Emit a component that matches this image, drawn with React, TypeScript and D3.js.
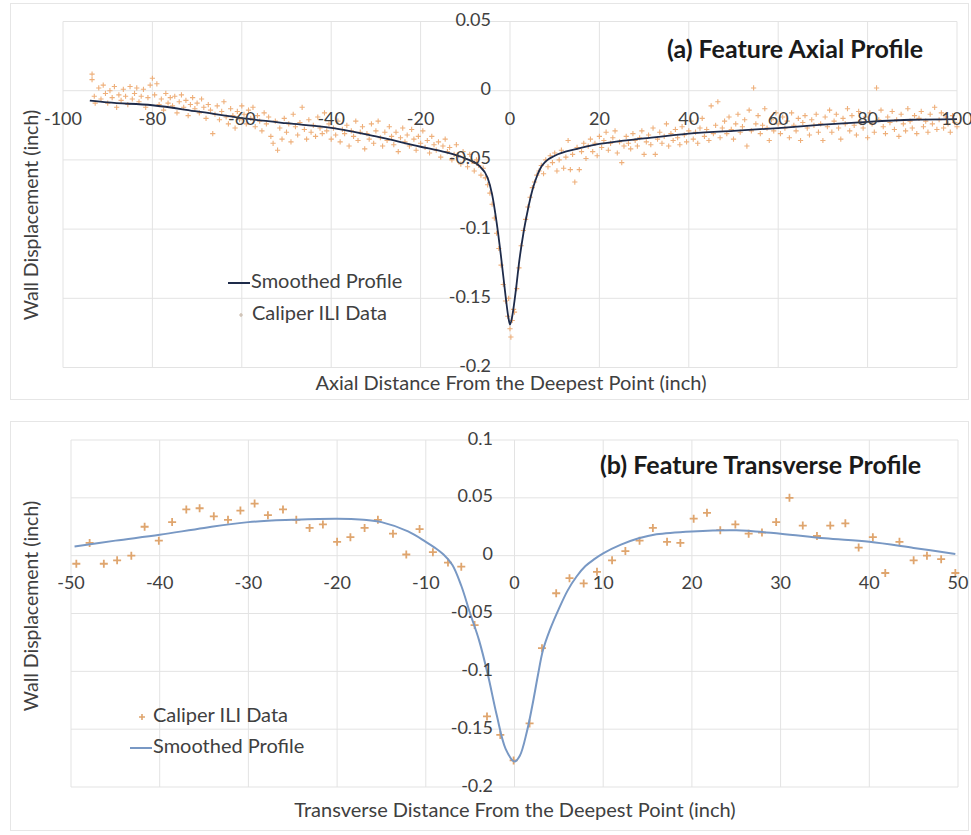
import React from "react";
import * as d3 from "d3";

// ---------- DATA ----------
const axialTicksX = [-100, -80, -60, -40, -20, 0, 20, 40, 60, 80, 100];
const axialTicksY = [0.05, 0, -0.05, -0.1, -0.15, -0.2];
const axialTickLabelsY = ["0.05", "0", "-0.05", "-0.1", "-0.15", "-0.2"];

const transTicksX = [-50, -40, -30, -20, -10, 0, 10, 20, 30, 40, 50];
const transTicksY = [0.1, 0.05, 0, -0.05, -0.1, -0.15, -0.2];
const transTickLabelsY = ["0.1", "0.05", "0", "-0.05", "-0.1", "-0.15", "-0.2"];

const axialSmoothed: [number, number][] = [
  [-94, -0.0072], [-90, -0.0085], [-80, -0.0105], [-70, -0.015], [-60, -0.0198], [-50, -0.0235],
  [-40, -0.0268], [-30, -0.033], [-20, -0.0405], [-15, -0.044], [-10, -0.049], [-7, -0.054],
  [-5, -0.063], [-4, -0.075], [-3, -0.095], [-2, -0.12], [-1, -0.148], [-0.4, -0.163],
  [0, -0.169], [0.5, -0.163], [1, -0.152], [1.5, -0.139], [2, -0.125], [3, -0.103],
  [4, -0.086], [5, -0.072], [6, -0.062], [7, -0.055], [8, -0.051], [10, -0.047],
  [15, -0.042], [20, -0.0385], [30, -0.0345], [40, -0.031], [50, -0.029], [60, -0.027],
  [70, -0.0245], [80, -0.0225], [90, -0.021], [100, -0.0205],
];

const axialCaliper: [number, number][] = [
  [-93.5, 0.012], [-93.5, 0.008], [-93.0, -0.004], [-92.8, -0.009], [-92.0, 0.002], [-91.5, -0.006],
  [-91.0, 0.004], [-90.5, -0.002], [-90.0, -0.009], [-89.5, 0.0], [-89.0, -0.005], [-88.5, 0.003],
  [-88.0, -0.012], [-87.5, -0.003], [-87.0, -0.007], [-86.5, 0.001], [-86.0, -0.004], [-85.5, -0.01],
  [-85.0, 0.003], [-84.5, -0.006], [-84.0, -0.002], [-83.5, 0.002], [-83.0, -0.008], [-82.5, -0.004],
  [-82.0, 0.001], [-81.5, -0.012], [-81.0, -0.005], [-80.5, 0.004], [-80.0, 0.009], [-79.5, -0.003],
  [-79.0, 0.005], [-78.5, -0.01], [-78.0, -0.006], [-77.5, -0.014], [-77.0, -0.002], [-76.5, -0.009],
  [-76.0, -0.005], [-75.5, -0.011], [-75.0, -0.004], [-74.5, -0.016], [-74.0, -0.008], [-73.5, -0.003],
  [-73.0, -0.012], [-72.5, -0.007], [-72.0, -0.018], [-71.5, -0.01], [-71.0, -0.005], [-70.5, -0.013],
  [-70.0, -0.009], [-69.5, -0.016], [-69.0, -0.006], [-68.5, -0.012], [-68.0, -0.02], [-67.5, -0.01],
  [-67.0, -0.014], [-66.5, -0.031], [-66.0, -0.017], [-65.5, -0.011], [-65.0, -0.021], [-64.5, -0.015],
  [-64.0, -0.008], [-63.5, -0.019], [-63.0, -0.024], [-62.5, -0.013], [-62.0, -0.018], [-61.5, -0.027],
  [-61.0, -0.015], [-60.5, -0.021], [-60.0, -0.011], [-59.5, -0.017], [-59.0, -0.024], [-58.5, -0.014],
  [-58.0, -0.02], [-57.5, -0.012], [-57.0, -0.026], [-56.5, -0.018], [-56.0, -0.022], [-55.5, -0.029],
  [-55.0, -0.016], [-54.5, -0.024], [-54.0, -0.019], [-53.5, -0.033], [-53.0, -0.038], [-52.5, -0.022],
  [-52.0, -0.043], [-51.5, -0.027], [-51.0, -0.035], [-50.5, -0.02], [-50.0, -0.03], [-49.5, -0.024],
  [-49.0, -0.037], [-48.5, -0.017], [-48.0, -0.026], [-47.5, -0.032], [-47.0, -0.023], [-46.5, -0.012],
  [-46.0, -0.028], [-45.5, -0.035], [-45.0, -0.021], [-44.5, -0.03], [-44.0, -0.025], [-43.5, -0.033],
  [-43.0, -0.019], [-42.5, -0.027], [-42.0, -0.031], [-41.5, -0.016], [-41.0, -0.029], [-40.5, -0.024],
  [-40.0, -0.035], [-39.5, -0.027], [-39.0, -0.032], [-38.5, -0.022], [-38.0, -0.037], [-37.5, -0.028],
  [-37.0, -0.031], [-36.5, -0.025], [-36.0, -0.04], [-35.5, -0.029], [-35.0, -0.033], [-34.5, -0.022],
  [-34.0, -0.036], [-33.5, -0.03], [-33.0, -0.026], [-32.5, -0.042], [-32.0, -0.031], [-31.5, -0.035],
  [-31.0, -0.024], [-30.5, -0.038], [-30.0, -0.029], [-29.5, -0.022], [-29.0, -0.034], [-28.5, -0.04],
  [-28.0, -0.03], [-27.5, -0.036], [-27.0, -0.026], [-26.5, -0.033], [-26.0, -0.039], [-25.5, -0.03],
  [-25.0, -0.044], [-24.5, -0.034], [-24.0, -0.027], [-23.5, -0.037], [-23.0, -0.032], [-22.5, -0.04],
  [-22.0, -0.028], [-21.5, -0.035], [-21.0, -0.043], [-20.5, -0.033], [-20.0, -0.038], [-19.5, -0.029],
  [-19.0, -0.041], [-18.5, -0.036], [-18.0, -0.045], [-17.5, -0.033], [-17.0, -0.039], [-16.5, -0.043],
  [-16.0, -0.037], [-15.5, -0.048], [-15.0, -0.04], [-14.5, -0.035], [-14.0, -0.044], [-13.5, -0.041],
  [-13.0, -0.05], [-12.5, -0.046], [-12.0, -0.039], [-11.5, -0.047], [-11.0, -0.053], [-10.5, -0.044],
  [-10.0, -0.049], [-9.5, -0.055], [-9.0, -0.046], [-8.5, -0.051], [-8.0, -0.058], [-7.5, -0.05],
  [-7.0, -0.054], [-6.5, -0.061], [-6.0, -0.056], [-5.5, -0.063], [-5.0, -0.068], [-4.5, -0.074],
  [-4.0, -0.082], [-3.5, -0.092], [-3.0, -0.103], [-2.5, -0.114], [-2.0, -0.126], [-1.5, -0.14],
  [-1.0, -0.152], [-0.5, -0.163], [-0.3, -0.15], [0.0, -0.172], [0.2, -0.178], [0.5, -0.166],
  [0.8, -0.158], [1.0, -0.16], [1.5, -0.143], [2.0, -0.128], [2.5, -0.112], [3.0, -0.101],
  [3.5, -0.093], [4.0, -0.084], [4.5, -0.077], [5.0, -0.07], [5.5, -0.066], [6.0, -0.061],
  [6.5, -0.058], [7.0, -0.054], [7.5, -0.06], [8.0, -0.05], [8.5, -0.055], [9.0, -0.047],
  [9.5, -0.052], [10.0, -0.045], [10.5, -0.058], [11.0, -0.05], [11.5, -0.043], [12.0, -0.056],
  [12.5, -0.048], [13.0, -0.036], [13.5, -0.057], [14.0, -0.046], [14.5, -0.066], [15.0, -0.041],
  [15.5, -0.057], [16.0, -0.044], [16.5, -0.038], [17.0, -0.049], [17.5, -0.04], [18.0, -0.035],
  [18.5, -0.044], [19.0, -0.038], [19.5, -0.047], [20.0, -0.033], [20.5, -0.041], [21.0, -0.036],
  [21.5, -0.03], [22.0, -0.043], [22.5, -0.038], [23.0, -0.034], [23.5, -0.029], [24.0, -0.045],
  [24.5, -0.037], [25.0, -0.052], [25.5, -0.04], [26.0, -0.033], [26.5, -0.038], [27.0, -0.042],
  [27.5, -0.031], [28.0, -0.036], [28.5, -0.04], [29.0, -0.034], [29.5, -0.029], [30.0, -0.046],
  [30.5, -0.037], [31.0, -0.032], [31.5, -0.039], [32.0, -0.027], [32.5, -0.046], [33.0, -0.035],
  [33.5, -0.03], [34.0, -0.038], [34.5, -0.033], [35.0, -0.024], [35.5, -0.04], [36.0, -0.031],
  [36.5, -0.036], [37.0, -0.028], [37.5, -0.034], [38.0, -0.039], [38.5, -0.026], [39.0, -0.032],
  [39.5, -0.037], [40.0, -0.029], [40.5, -0.022], [41.0, -0.035], [41.5, -0.03], [42.0, -0.038],
  [42.5, -0.027], [43.0, -0.02], [43.5, -0.033], [44.0, -0.028], [44.5, -0.036], [45.0, -0.011],
  [45.5, -0.031], [46.0, -0.025], [46.5, -0.008], [47.0, -0.034], [47.5, -0.027], [48.0, -0.022],
  [48.5, -0.031], [49.0, -0.019], [49.5, -0.028], [50.0, -0.035], [50.5, -0.024], [51.0, -0.017],
  [51.5, -0.03], [52.0, -0.026], [52.5, -0.021], [53.0, -0.04], [53.5, -0.014], [54.0, -0.029],
  [54.5, 0.002], [55.0, -0.024], [55.5, -0.018], [56.0, -0.031], [56.5, -0.025], [57.0, -0.013],
  [57.5, -0.027], [58.0, -0.036], [58.5, -0.021], [59.0, -0.029], [59.5, -0.016], [60.0, -0.024],
  [60.5, -0.031], [61.0, -0.019], [61.5, -0.027], [62.0, -0.022], [62.5, -0.034], [63.0, -0.016],
  [63.5, -0.025], [64.0, -0.029], [64.5, -0.02], [65.0, -0.036], [65.5, -0.023], [66.0, -0.018],
  [66.5, -0.027], [67.0, -0.032], [67.5, -0.021], [68.0, -0.025], [68.5, -0.017], [69.0, -0.03],
  [69.5, -0.024], [70.0, -0.036], [70.5, -0.019], [71.0, -0.026], [71.5, -0.014], [72.0, -0.03],
  [72.5, -0.022], [73.0, -0.017], [73.5, -0.027], [74.0, -0.035], [74.5, -0.02], [75.0, -0.024],
  [75.5, -0.013], [76.0, -0.029], [76.5, -0.018], [77.0, -0.025], [77.5, -0.032], [78.0, -0.015],
  [78.5, -0.023], [79.0, -0.027], [79.5, -0.019], [80.0, -0.034], [80.5, -0.016], [81.0, -0.024],
  [81.5, -0.03], [82.0, 0.002], [82.5, -0.021], [83.0, -0.014], [83.5, -0.026], [84.0, -0.031],
  [84.5, -0.019], [85.0, -0.023], [85.5, -0.015], [86.0, -0.028], [86.5, -0.021], [87.0, -0.033],
  [87.5, -0.017], [88.0, -0.024], [88.5, -0.029], [89.0, -0.013], [89.5, -0.022], [90.0, -0.027],
  [90.5, -0.018], [91.0, -0.031], [91.5, -0.02], [92.0, -0.015], [92.5, -0.026], [93.0, -0.022],
  [93.5, -0.03], [94.0, -0.017], [94.5, -0.024], [95.0, -0.012], [95.5, -0.028], [96.0, -0.021],
  [96.5, -0.016], [97.0, -0.027], [97.5, -0.019], [98.0, -0.024], [98.5, -0.03], [99.0, -0.018],
  [99.5, -0.023], [100.0, -0.026],
];

const transSmoothed: [number, number][] = [
  [-49.6, 0.008], [-45, 0.013], [-40, 0.018], [-35, 0.024], [-30, 0.029], [-25, 0.031],
  [-20, 0.032], [-17, 0.031], [-15, 0.029], [-12, 0.021], [-10, 0.012], [-9, 0.007],
  [-8, 0.001], [-7, -0.008], [-6, -0.026], [-5, -0.05], [-4, -0.073], [-3, -0.103],
  [-2, -0.138], [-1, -0.167], [0, -0.178], [0.6, -0.173], [1.4, -0.152], [2, -0.13],
  [2.65, -0.103], [3.2, -0.082], [4, -0.064], [5, -0.046], [6, -0.03], [7, -0.018],
  [8, -0.009], [9, -0.003], [10, 0.002], [12, 0.0095], [14, 0.015], [16, 0.0185],
  [20, 0.021], [25, 0.022], [30, 0.019], [35, 0.015], [40, 0.012], [45, 0.0067], [49.7, 0.0015],
];

const transCaliper: [number, number][] = [
  [-49.4, -0.007], [-47.9, 0.011], [-46.3, -0.007], [-44.8, -0.004], [-43.2, 0.0], [-41.7, 0.025],
  [-40.1, 0.013], [-38.6, 0.029], [-37.0, 0.04], [-35.5, 0.041], [-33.9, 0.034], [-32.3, 0.031],
  [-30.9, 0.039], [-29.3, 0.045], [-27.8, 0.035], [-26.1, 0.04], [-24.6, 0.031], [-23.1, 0.024],
  [-21.6, 0.027], [-20.0, 0.012], [-18.5, 0.016], [-16.9, 0.024], [-15.4, 0.031], [-13.7, 0.019],
  [-12.2, 0.001], [-10.7, 0.023], [-9.2, 0.003], [-7.5, -0.006], [-6.0, -0.0095], [-4.5, -0.06],
  [-3.1, -0.139], [-1.6, -0.155], [-0.1, -0.177], [1.7, -0.145], [3.1, -0.08], [4.7, -0.0325],
  [6.2, -0.0195], [7.8, -0.024], [9.3, -0.014], [11.0, -0.004], [12.5, 0.004], [14.1, 0.013],
  [15.6, 0.024], [17.2, 0.012], [18.7, 0.011], [20.2, 0.032], [21.7, 0.037], [23.2, 0.022],
  [24.9, 0.027], [26.4, 0.019], [27.9, 0.02], [29.5, 0.029], [31.0, 0.05], [32.5, 0.026],
  [34.1, 0.017], [35.6, 0.026], [37.3, 0.028], [38.8, 0.007], [40.4, 0.016], [41.8, -0.015],
  [43.4, 0.012], [45.0, -0.004], [46.5, 0.0], [48.1, -0.003], [49.7, -0.015],
];

// ---------- STYLE ----------
const FONT = "Lato, 'Open Sans', sans-serif";
const GRID = "#e3e3e3";
const TXT = "#404040";
const TICK_FS = 18;
const LABEL_FS = 20;
const TITLE_FS = 25;

const plusPath = (x: number, y: number, s: number) =>
  `M${x - s},${y}H${x + s}M${x},${y - s}V${y + s}`;

export default function App() {
  // top chart scales
  const xA = d3.scaleLinear().domain([-100, 100]).range([63, 957]);
  const yA = d3.scaleLinear().domain([-0.2, 0.05]).range([367.5, 21.5]);
  // bottom chart scales
  const xB = d3.scaleLinear().domain([-50, 50]).range([71, 958]);
  const yB = d3.scaleLinear().domain([-0.2, 0.1]).range([787, 440]);

  const lineA = d3
    .line<[number, number]>()
    .x((d) => xA(d[0]))
    .y((d) => yA(d[1]))
    .curve(d3.curveMonotoneX);
  const lineB = d3
    .line<[number, number]>()
    .x((d) => xB(d[0]))
    .y((d) => yB(d[1]))
    .curve(d3.curveCatmullRom.alpha(0.5));

  const caliperA = axialCaliper.map((d) => plusPath(xA(d[0]), yA(d[1]), 2.6)).join("");
  const caliperB = transCaliper.map((d) => plusPath(xB(d[0]), yB(d[1]), 4)).join("");

  return (
    <svg
      width={971}
      height={835}
      style={{ position: "absolute", left: 0, top: 0, background: "#fff" }}
      fontFamily={FONT}
    >
      <rect x={0} y={0} width={971} height={835} fill="#fff" />
      {/* outer frames */}
      <rect x={10.5} y={3.5} width={958} height={396} fill="none" stroke="#e6e6e6" />
      <rect x={10.5} y={421.5} width={958} height={409} fill="none" stroke="#e6e6e6" />

      {/* ===== TOP CHART ===== */}
      <g>
        {axialTicksX.map((t) => (
          <line key={"gxa" + t} x1={xA(t)} x2={xA(t)} y1={yA(0.05)} y2={yA(-0.2)} stroke={GRID} />
        ))}
        {axialTicksY.map((t) => (
          <line key={"gya" + t} x1={xA(-100)} x2={xA(100)} y1={yA(t)} y2={yA(t)} stroke={GRID} />
        ))}
        <path d={caliperA} stroke="#eca66c" strokeWidth={1.1} fill="none" opacity={0.9} />
        <path d={lineA(axialSmoothed) || ""} stroke="#1e2b4a" strokeWidth={1.8} fill="none" />
        {axialTicksX.map((t) => (
          <text
            key={"txa" + t}
            x={xA(t)}
            y={yA(0) + 30}
            textAnchor="middle"
            dominantBaseline="middle"
            fontSize={TICK_FS}
            fill={TXT}
          >
            {t}
          </text>
        ))}
        {axialTicksY.map((t, i) => (
          <text
            key={"tya" + t}
            x={491}
            y={yA(t)}
            textAnchor="end"
            dominantBaseline="middle"
            fontSize={TICK_FS}
            fill={TXT}
          >
            {axialTickLabelsY[i]}
          </text>
        ))}
        <text x={667} y={52} dominantBaseline="middle" fontSize={TITLE_FS} fontWeight="bold" fill="#1a1a1a">
          (a) Feature Axial Profile
        </text>
        <text
          x={511}
          y={385}
          textAnchor="middle"
          dominantBaseline="middle"
          fontSize={LABEL_FS}
          fill={TXT}
        >
          Axial Distance From the Deepest Point (inch)
        </text>
        <text
          transform="translate(33,215) rotate(-90)"
          textAnchor="middle"
          dominantBaseline="middle"
          fontSize={19.5}
          fill={TXT}
        >
          Wall Displacement (inch)
        </text>
        {/* legend */}
        <line x1={228} x2={250} y1={283} y2={283} stroke="#1e2b4a" strokeWidth={2} />
        <text x={251} y={283} dominantBaseline="middle" fontSize={LABEL_FS} fill={TXT}>
          Smoothed Profile
        </text>
        <path d={plusPath(241, 315, 2)} stroke="#c9b9aa" strokeWidth={1.2} />
        <text x={252} y={315} dominantBaseline="middle" fontSize={LABEL_FS} fill={TXT}>
          Caliper ILI Data
        </text>
      </g>

      {/* ===== BOTTOM CHART ===== */}
      <g>
        {transTicksX.map((t) => (
          <line key={"gxb" + t} x1={xB(t)} x2={xB(t)} y1={yB(0.1)} y2={yB(-0.2)} stroke={GRID} />
        ))}
        {transTicksY.map((t) => (
          <line key={"gyb" + t} x1={xB(-50)} x2={xB(50)} y1={yB(t)} y2={yB(t)} stroke={GRID} />
        ))}
        <path d={caliperB} stroke="#dfa56e" strokeWidth={1.8} fill="none" />
        <path d={lineB(transSmoothed) || ""} stroke="#7898c4" strokeWidth={2} fill="none" />
        {transTicksX.map((t) => (
          <text
            key={"txb" + t}
            x={xB(t)}
            y={yB(0) + 29}
            textAnchor="middle"
            dominantBaseline="middle"
            fontSize={TICK_FS}
            fill={TXT}
          >
            {t}
          </text>
        ))}
        {transTicksY.map((t, i) => (
          <text
            key={"tyb" + t}
            x={493}
            y={yB(t)}
            textAnchor="end"
            dominantBaseline="middle"
            fontSize={TICK_FS}
            fill={TXT}
          >
            {transTickLabelsY[i]}
          </text>
        ))}
        <text x={600} y={468} dominantBaseline="middle" fontSize={TITLE_FS} fontWeight="bold" fill="#1a1a1a">
          (b) Feature Transverse Profile
        </text>
        <text
          x={515}
          y={812}
          textAnchor="middle"
          dominantBaseline="middle"
          fontSize={LABEL_FS}
          fill={TXT}
        >
          Transverse Distance From the Deepest Point (inch)
        </text>
        <text
          transform="translate(33,606) rotate(-90)"
          textAnchor="middle"
          dominantBaseline="middle"
          fontSize={19.5}
          fill={TXT}
        >
          Wall Displacement (inch)
        </text>
        {/* legend */}
        <path d={plusPath(142, 717, 3)} stroke="#dfa56e" strokeWidth={1.6} />
        <text x={153} y={717} dominantBaseline="middle" fontSize={LABEL_FS} fill={TXT}>
          Caliper ILI Data
        </text>
        <line x1={130} x2={152} y1={748} y2={748} stroke="#7898c4" strokeWidth={2} />
        <text x={153} y={748} dominantBaseline="middle" fontSize={LABEL_FS} fill={TXT}>
          Smoothed Profile
        </text>
      </g>
    </svg>
  );
}
